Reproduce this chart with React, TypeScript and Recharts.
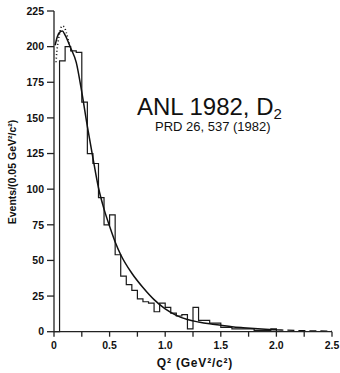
import React from 'react';
import { ComposedChart, Line, XAxis, YAxis } from 'recharts';

// Histogram: bin start (GeV^2/c^2) and events per 0.05 GeV^2/c^2 bin
const binStarts = [0.0, 0.05, 0.1, 0.15, 0.2, 0.25, 0.3, 0.35, 0.4, 0.45, 0.5, 0.55, 0.6, 0.65, 0.7, 0.75, 0.8, 0.85, 0.9, 0.95, 1.0, 1.05, 1.1, 1.15, 1.2, 1.25, 1.3, 1.35, 1.4, 1.45, 1.5, 1.55, 1.6, 1.65, 1.7, 1.75, 1.8, 1.85, 1.9, 1.95, 2.0];
const binCounts = [0, 190, 200, 197, 196, 161, 125, 118, 94, 75, 82, 54, 39, 33, 29, 23, 21, 20, 14, 20, 17, 13, 11, 12, 2, 17, 8, 8, 6, 6, 3, 3, 2, 2, 2, 2, 1, 1, 1, 2, 0];

// Fitted curve (solid)
const fitQ2 = [0.01, 0.03, 0.05, 0.075, 0.1, 0.15, 0.2, 0.25, 0.3, 0.35, 0.4, 0.45, 0.5, 0.55, 0.6, 0.7, 0.8, 0.9, 1.0, 1.1, 1.2, 1.3, 1.4, 1.5, 1.6, 1.7, 1.8, 1.9, 2.0];
const fitEvents = [201, 207, 210, 211, 208, 199, 189, 168, 144, 122, 101, 86, 74, 63, 54, 41, 31, 22.5, 16, 11.5, 8.5, 6.8, 5.5, 4.5, 3.5, 2.8, 2.2, 1.7, 1.3];

// Fitted curve tail (dashed)
const tailQ2 = [2.0, 2.2, 2.5];
const tailEvents = [1.3, 0.8, 0.4];

// Alternative fit (dotted) near the peak
const altQ2 = [0.018, 0.025, 0.04, 0.055, 0.07, 0.09, 0.11, 0.13, 0.145];
const altEvents = [189, 196, 205, 211, 214.5, 214, 210, 204, 199];

const xTicks = [0, 0.25, 0.5, 0.75, 1.0, 1.25, 1.5, 1.75, 2.0, 2.25, 2.5];
const yTicks = [0, 25, 50, 75, 100, 125, 150, 175, 200, 225];

const histData = binStarts.map((q, i) => ({ q, v: binCounts[i] }));
const fitData = fitQ2.map((q, i) => ({ q, v: fitEvents[i] }));
const tailData = tailQ2.map((q, i) => ({ q, v: tailEvents[i] }));
const altData = altQ2.map((q, i) => ({ q, v: altEvents[i] }));

const tickFont = { fontFamily: 'Liberation Sans, Arial, sans-serif', fontSize: 10.5, fontWeight: 600, fill: '#111' };
const fmtX = (v: number) => {
  const r = Math.round(v * 100);
  if (r % 50 !== 0) return '';
  return v === 0 ? '0' : v.toFixed(1);
};

export default function App() {
  return (
    <div style={{ position: 'absolute', left: 0, top: 0, width: 340, height: 373, background: '#fff' }}>
      <ComposedChart width={340} height={373} margin={{ top: 11, right: 8, left: 0, bottom: 0 }}>
        <XAxis
          xAxisId="b"
          dataKey="q"
          type="number"
          domain={[0, 2.5]}
          ticks={xTicks}
          tickFormatter={fmtX}
          interval={0}
          allowDataOverflow
          height={41.3}
          tickSize={5}
          tickMargin={5}
          stroke="#222"
          strokeWidth={1.3}
          tick={tickFont}
        />
        <XAxis
          xAxisId="t"
          orientation="top"
          dataKey="q"
          type="number"
          domain={[0, 2.5]}
          ticks={xTicks}
          interval={0}
          mirror
          height={0}
          tickSize={5}
          tick={false}
          stroke="#222"
          strokeWidth={1.3}
        />
        <YAxis
          yAxisId="l"
          type="number"
          domain={[0, 225]}
          ticks={yTicks}
          interval={0}
          width={54}
          tickSize={7}
          tickMargin={3}
          stroke="#222"
          strokeWidth={1.3}
          tick={tickFont}
        />
        <YAxis
          yAxisId="r"
          orientation="right"
          type="number"
          domain={[0, 225]}
          ticks={yTicks}
          interval={0}
          mirror
          width={0}
          tickSize={5}
          tick={false}
          stroke="#222"
          strokeWidth={1.3}
        />
        <Line xAxisId="b" yAxisId="l" data={histData} dataKey="v" type="stepAfter" stroke="#1a1a1a" strokeWidth={1.2} dot={false} isAnimationActive={false} />
        <Line xAxisId="b" yAxisId="l" data={fitData} dataKey="v" type="monotone" stroke="#111" strokeWidth={1.5} dot={false} isAnimationActive={false} />
        <Line xAxisId="b" yAxisId="l" data={tailData} dataKey="v" type="monotone" stroke="#111" strokeWidth={1.3} strokeDasharray="7 4" dot={false} isAnimationActive={false} />
        <Line xAxisId="b" yAxisId="l" data={altData} dataKey="v" type="monotone" stroke="#111" strokeWidth={1.6} strokeDasharray="1 2.5" dot={false} isAnimationActive={false} />
      </ComposedChart>
      <svg width={340} height={373} style={{ position: 'absolute', left: 0, top: 0, pointerEvents: 'none' }}>
        <text x={137} y={115} fontFamily="Liberation Sans, Arial, sans-serif" fontSize={24} fill="#111">
          ANL 1982, D<tspan fontSize={15} dy={4}>2</tspan>
        </text>
        <text x={155} y={131} fontFamily="Liberation Sans, Arial, sans-serif" fontSize={13} fill="#111">
          PRD 26, 537 (1982)
        </text>
        <text x={16} y={172} transform="rotate(-90 16 172)" textAnchor="middle" fontFamily="Liberation Sans, Arial, sans-serif" fontSize={10.5} fontWeight={700} fill="#111">
          Events/(0.05 GeV²/c²)
        </text>
        <text x={195} y={367} textAnchor="middle" fontFamily="Liberation Sans, Arial, sans-serif" fontSize={12} fontWeight={700} letterSpacing={0.8} fill="#111">
          Q² (GeV²/c²)
        </text>
      </svg>
    </div>
  );
}
